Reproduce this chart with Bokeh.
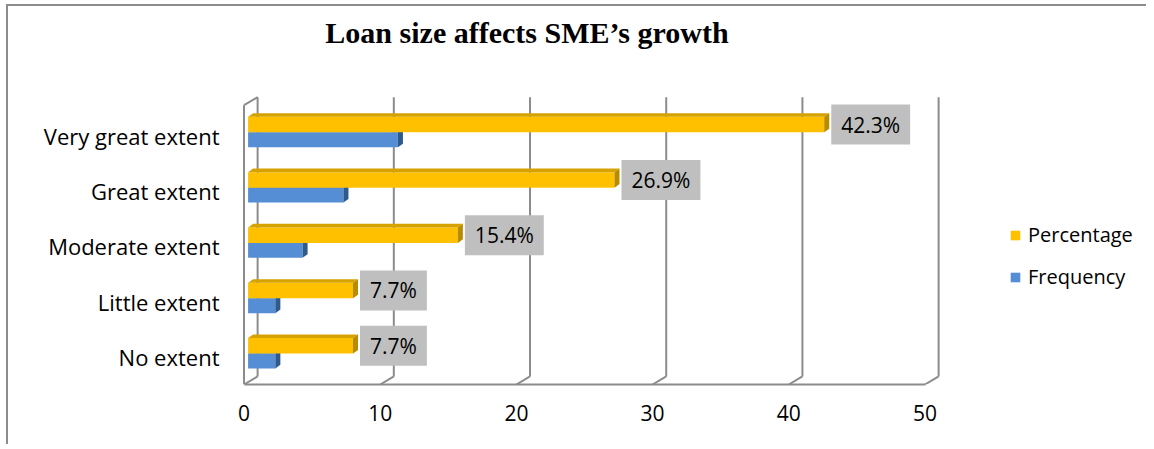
from bokeh.plotting import figure
from bokeh.models import Range1d, FixedTicker, Label, Legend, LegendItem
from bokeh.embed import file_html
from bokeh.resources import INLINE

# ---------------- data ----------------
categories = ["No extent", "Little extent", "Moderate extent", "Great extent", "Very great extent"]
frequency = [2, 2, 4, 7, 11]
percentage = [7.7, 7.7, 15.4, 26.9, 42.3]
pct_labels = ["7.7%", "7.7%", "15.4%", "26.9%", "42.3%"]
x_ticks = [0, 10, 20, 30, 40, 50]
series_names = ["Percentage", "Frequency"]
title_text = "Loan size affects SME\u2019s growth"

# ---------------- style ----------------
FONT = "Open Sans"
GRID = "#8c8c8c"
YEL, YEL_TOP, YEL_SIDE = "#FFC000", "#D6A200", "#B88B00"
BLU, BLU_TOP, BLU_SIDE = "#558ED5", "#4A7BB8", "#2F5A8C"
PXX, PXY = 13.62, 55.3          # pixels per data unit
W, H = 1140, 440
ML, MB = 230, 62
FW, FH = W - ML, H - MB

DX, DY, WALL_TOP = 1.0, 0.145, 5.05      # 3-D wall depth
OFF, BH_Y, BH_B = 0.06, 0.28, 0.27       # bar offsets/heights
BX, SDX, SDY = 0.3, 0.37, 0.065          # bar shift and bar depth

x0 = -5.5 / PXX
p = figure(width=W, height=H, output_backend="svg", toolbar_location=None,
           x_range=Range1d(x0, x0 + FW / PXX), y_range=Range1d(0, FH / PXY),
           min_border_left=ML, min_border_right=0, min_border_top=0, min_border_bottom=MB)
p.styles = {"border-left": "2px solid #8c8c8c", "border-top": "2px solid #8c8c8c",
            "margin-left": "6px", "margin-top": "4px"}
p.outline_line_color = None
p.xgrid.visible = False
p.ygrid.visible = False
p.background_fill_color = "white"
p.border_fill_color = "white"

# x axis (front floor edge)
xa = p.xaxis[0]
xa.ticker = FixedTicker(ticks=x_ticks)
xa.bounds = (0, 50)
xa.axis_line_color = GRID
xa.axis_line_width = 2
xa.major_tick_line_color = None
xa.minor_tick_line_color = None
xa.major_label_standoff = 14
xa.major_label_text_font = FONT
xa.major_label_text_font_size = "21px"
xa.major_label_text_color = "#000000"

# y axis (categories)
yc = [i + 0.5 for i in range(len(categories))]
ya = p.yaxis[0]
ya.ticker = FixedTicker(ticks=yc)
ya.major_label_overrides = {y: c for y, c in zip(yc, categories)}
ya.axis_line_color = None
ya.major_tick_line_color = None
ya.minor_tick_line_color = None
ya.major_label_standoff = 13
ya.major_label_text_font = FONT
ya.major_label_text_font_size = "22px"
ya.major_label_text_color = "#000000"

# back wall gridlines and floor/left wall edges
p.segment(x0=[t + DX for t in x_ticks], y0=[DY] * len(x_ticks),
          x1=[t + DX for t in x_ticks], y1=[WALL_TOP + DY] * len(x_ticks),
          line_color=GRID, line_width=2)
p.segment(x0=x_ticks, y0=[0] * len(x_ticks), x1=[t + DX for t in x_ticks], y1=[DY] * len(x_ticks),
          line_color=GRID, line_width=2)
p.segment(x0=[0, 0], y0=[0, WALL_TOP], x1=[0, DX], y1=[WALL_TOP, WALL_TOP + DY],
          line_color=GRID, line_width=2)


def bars(vals, bottoms, tops, front, topc, side):
    lefts = [BX] * len(vals)
    rights = [v + BX for v in vals]
    r = p.hbar(y=[(b + t) / 2 for b, t in zip(bottoms, tops)], height=[t - b for b, t in zip(bottoms, tops)],
               left=lefts, right=rights, fill_color=front, line_color=None)
    p.patches(xs=[[l, r_, r_ + SDX, l + SDX] for l, r_ in zip(lefts, rights)],
              ys=[[t, t, t + SDY, t + SDY] for t in tops], fill_color=topc, line_color=None)
    p.patches(xs=[[r_, r_ + SDX, r_ + SDX, r_] for r_ in rights],
              ys=[[b, b + SDY, t + SDY, t] for b, t in zip(bottoms, tops)], fill_color=side, line_color=None)
    return r


b_top = [y + OFF for y in yc]
r_freq = bars(frequency, [t - BH_B for t in b_top], b_top, BLU, BLU_TOP, BLU_SIDE)
r_pct = bars(percentage, b_top, [t + BH_Y for t in b_top], YEL, YEL_TOP, YEL_SIDE)

# data labels
for v, y, txt in zip(percentage, b_top, pct_labels):
    p.add_layout(Label(x=v + BX + SDX, y=y + BH_Y / 2, x_offset=2, text=txt,
                       text_align="left", text_baseline="middle", text_font=FONT,
                       text_font_size="21px", text_color="#000000",
                       background_fill_color="#BFBFBF",
                       padding=dict(left=10, right=10, top=6, bottom=6)))

# title
p.add_layout(Label(x=(526.5 - 243.5) / PXX, y=(384 - 32) / PXY, text=title_text,
                   text_align="center", text_baseline="alphabetic",
                   text_font="Liberation Serif", text_font_style="bold",
                   text_font_size="30px", text_color="#000000"))

legend = Legend(items=[LegendItem(label=series_names[0], renderers=[r_pct]),
                       LegendItem(label=series_names[1], renderers=[r_freq])],
                location=(771, 94), orientation="vertical",
                glyph_width=12, glyph_height=12, label_standoff=7, spacing=15,
                padding=0, margin=0, border_line_color=None, background_fill_alpha=0,
                label_text_font=FONT, label_text_font_size="20px", label_text_color="#000000")
p.add_layout(legend)

open("out.html", "w").write(file_html(p, INLINE))
